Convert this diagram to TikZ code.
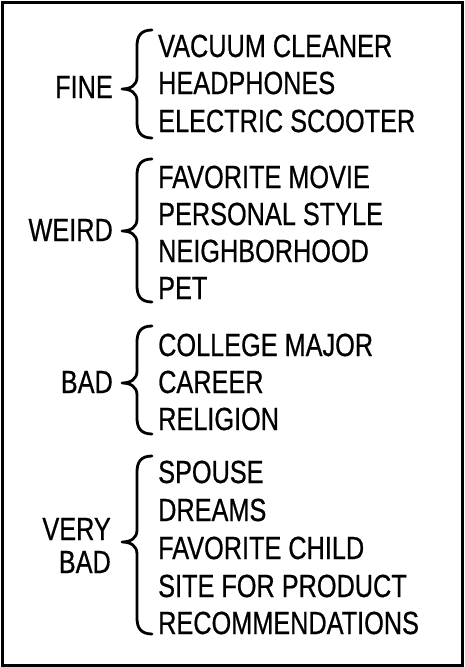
\documentclass[tikz,border=0pt]{standalone}
\usepackage{fontspec}
\setmainfont{Liberation Sans}[FakeStretch=0.79,FakeBold=0.6]
\begin{document}
\begin{tikzpicture}[x=1pt,y=-1pt,
  item/.style={anchor=base west,inner sep=0pt,font=\fontsize{32}{32}\selectfont},
  cat/.style={anchor=base east,inner sep=0pt,align=right,font=\fontsize{32}{33}\selectfont},
  bracestyle/.style={line width=2.8pt,line cap=round,line join=round},
  frame/.style={line width=3pt}]
\useasboundingbox (0,0) rectangle (464,667);
\draw[frame] (2,2) rectangle (462,665);
\newcommand{\xbrace}[3]{%
  \draw[bracestyle] (152,#1) .. controls (141,#1) and (137,#1+6) .. (137,#1+16)
    -- (137,#2-12) .. controls (137,#2-4) and (131,#2) .. (122,#2)
    .. controls (131,#2) and (137,#2+4) .. (137,#2+12)
    -- (137,#3-16) .. controls (137,#3-6) and (141,#3) .. (152,#3);}
% FINE
\node[cat] (fine) at (113,98) {FINE};
\node[item] (f1) at (158,57) {VACUUM CLEANER};
\node[item] (f2) at (158,94) {HEADPHONES};
\node[item] (f3) at (158,132) {ELECTRIC SCOOTER};
\xbrace{30}{89}{138}
% WEIRD
\node[cat] (weird) at (113,241) {WEIRD};
\node[item] (w1) at (158,188) {FAVORITE MOVIE};
\node[item] (w2) at (158,225) {PERSONAL STYLE};
\node[item] (w3) at (158,262) {NEIGHBORHOOD};
\node[item] (w4) at (158,299) {PET};
\xbrace{159}{231}{302}
% BAD
\node[cat] (bad) at (113,393) {BAD};
\node[item] (b1) at (158,356) {COLLEGE MAJOR};
\node[item] (b2) at (158,393) {CAREER};
\node[item] (b3) at (158,430) {RELIGION};
\xbrace{326}{383}{434}
% VERY BAD
\node[cat] (very) at (111,540) {VERY};
\node[cat] (vbad) at (111,573) {BAD};
\node[item] (v1) at (158,483) {SPOUSE};
\node[item] (v2) at (158,521) {DREAMS};
\node[item] (v3) at (158,559) {FAVORITE CHILD};
\node[item] (v4) at (158,597) {SITE FOR PRODUCT};
\node[item] (v5) at (158,634) {RECOMMENDATIONS};
\xbrace{456}{542}{634}
\end{tikzpicture}
\end{document}
